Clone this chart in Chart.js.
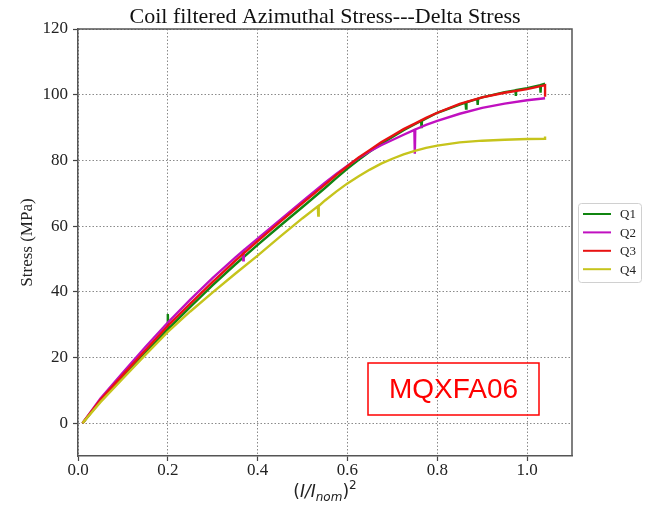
<!DOCTYPE html>
<html>
<head>
<meta charset="utf-8">
<script src="https://cdn.jsdelivr.net/npm/chart.js@4/dist/chart.umd.min.js"></script>
<style>
  body { margin: 0; background: #fff; }
  canvas { display: block; }
</style>
</head>
<body>
<canvas id="stressChart" width="648" height="508"></canvas>
<script>
// (I/Inom)^2 and delta stress (MPa) per quadrant
const loadQ1 = [0.01, 0.05, 0.1, 0.15, 0.199, 0.2, 0.201, 0.25, 0.3, 0.35, 0.4, 0.45, 0.5, 0.55, 0.575, 0.6, 0.625, 0.65,
  0.675, 0.7, 0.725, 0.75, 0.764, 0.765, 0.766, 0.8, 0.85, 0.863, 0.864, 0.865, 0.889, 0.89, 0.891, 0.9, 0.95,
  0.974, 0.975, 0.976, 1.0, 1.029, 1.03, 1.031, 1.04];
const stressQ1 = [0, 6.8, 14.2, 21.5, 28.5, 33.2, 28.7, 35.4, 42.0, 48.3, 54.3, 60.1, 65.8, 71.6, 74.6, 77.5, 80.2, 82.7,
  85.0, 87.1, 89.2, 91.0, 92.0, 89.8, 92.1, 94.5, 97.0, 97.6, 95.8, 97.7, 98.7, 96.9, 98.8, 99.2, 100.8,
  101.3, 99.6, 101.4, 102.0, 102.9, 100.6, 103.0, 103.4];

const loadQ2 = [0.01, 0.05, 0.1, 0.15, 0.2, 0.25, 0.3, 0.35, 0.367, 0.368, 0.369, 0.4, 0.45, 0.5, 0.55, 0.575, 0.6, 0.625,
  0.65, 0.675, 0.7, 0.725, 0.749, 0.75, 0.751, 0.775, 0.8, 0.85, 0.9, 0.95, 1.0, 1.04];
const stressQ2 = [0, 7.5, 15.4, 23.2, 30.6, 37.6, 44.2, 50.4, 52.4, 49.6, 52.6, 56.2, 61.9, 67.6, 73.2, 75.9, 78.4, 80.7,
  82.8, 84.6, 86.2, 87.8, 89.3, 82.0, 89.4, 90.8, 92.0, 94.2, 96.0, 97.3, 98.3, 98.9];

const loadQ3 = [0.01, 0.05, 0.1, 0.15, 0.2, 0.25, 0.3, 0.35, 0.4, 0.45, 0.5, 0.55, 0.575, 0.6, 0.625, 0.65, 0.675, 0.7,
  0.725, 0.75, 0.775, 0.8, 0.85, 0.9, 0.95, 1.0, 1.04, 1.04];
const stressQ3 = [0, 7.1, 14.7, 22.2, 29.6, 36.4, 43.0, 49.4, 55.4, 61.3, 67.0, 72.6, 75.5, 78.2, 80.9, 83.2, 85.5, 87.5,
  89.5, 91.2, 92.95, 94.5, 97.2, 99.2, 100.6, 101.7, 102.9, 99.4];

const loadQ4 = [0.01, 0.05, 0.1, 0.15, 0.2, 0.25, 0.3, 0.35, 0.4, 0.45, 0.5, 0.534, 0.535, 0.536, 0.55, 0.575, 0.6, 0.625,
  0.65, 0.675, 0.7, 0.725, 0.75, 0.775, 0.8, 0.85, 0.9, 0.95, 1.0, 1.04, 1.04];
const stressQ4 = [0, 6.4, 13.6, 20.8, 27.8, 34.0, 39.8, 45.5, 51.0, 56.8, 62.4, 66.0, 63.2, 66.1, 67.8, 70.5, 73.0, 75.2,
  77.2, 79.0, 80.5, 81.8, 82.9, 83.8, 84.5, 85.5, 86.0, 86.3, 86.5, 86.6, 87.3];

const seriesNames = ['Q1', 'Q2', 'Q3', 'Q4'];
const seriesColors = ['#108510', '#c010c0', '#e81212', '#c6c41c'];
const xTicks = [0.0, 0.2, 0.4, 0.6, 0.8, 1.0];
const yTicks = [0, 20, 40, 60, 80, 100, 120];
const chartTitle = 'Coil filtered Azimuthal Stress---Delta Stress';
const tagText = 'MQXFA06';

const loads = [loadQ1, loadQ2, loadQ3, loadQ4];
const stresses = [stressQ1, stressQ2, stressQ3, stressQ4];

const serif = 'Liberation Serif, Times New Roman, serif';

const datasets = seriesNames.map((name, i) => ({
  label: name,
  data: loads[i].map((x, k) => ({ x: x, y: stresses[i][k] })),
  borderColor: seriesColors[i],
  backgroundColor: seriesColors[i],
  borderWidth: 2.4,
  pointRadius: 0,
  tension: 0,
  order: 3 - i   // Q4 ends up on top
}));

// top/right spines, title, legend box, tag box and the x axis label
const extras = {
  id: 'extras',
  afterDatasetsDraw(chart) {
    const { ctx, chartArea: a } = chart;
    ctx.save();
    ctx.strokeStyle = '#555';
    ctx.lineWidth = 1.5;
    ctx.beginPath();
    ctx.moveTo(a.left, a.top);
    ctx.lineTo(a.right, a.top);
    ctx.lineTo(a.right, a.bottom);
    ctx.stroke();
    ctx.restore();
  },
  afterDraw(chart) {
    const { ctx, chartArea: a } = chart;
    ctx.save();

    // title, centred over the plot
    ctx.fillStyle = '#111';
    ctx.font = '22px ' + serif;
    ctx.textAlign = 'center';
    ctx.textBaseline = 'alphabetic';
    ctx.fillText(chartTitle, (a.left + a.right) / 2, 23);

    // legend
    const lx = 578, ly = 203, lw = 63, lh = 79;
    ctx.fillStyle = '#fff';
    ctx.strokeStyle = '#d0d0d0';
    ctx.lineWidth = 1;
    ctx.beginPath();
    ctx.roundRect(lx + 0.5, ly + 0.5, lw, lh, 3);
    ctx.fill();
    ctx.stroke();
    ctx.font = '13px ' + serif;
    ctx.textBaseline = 'middle';
    ctx.textAlign = 'left';
    seriesNames.forEach((name, i) => {
      const y = 214 + i * 18.4;
      ctx.strokeStyle = seriesColors[i];
      ctx.lineWidth = 2;
      ctx.beginPath();
      ctx.moveTo(583, y);
      ctx.lineTo(611, y);
      ctx.stroke();
      ctx.fillStyle = '#222';
      ctx.fillText(name, 620, y + 1);
    });

    // tag box
    ctx.strokeStyle = '#ff0000';
    ctx.lineWidth = 1.5;
    ctx.strokeRect(368, 363, 171, 52);
    ctx.fillStyle = '#ff0000';
    ctx.font = '28px Liberation Sans, Arial, sans-serif';
    ctx.textAlign = 'center';
    ctx.textBaseline = 'middle';
    ctx.fillText(tagText, 453.5, 390);

    // x axis label: (I/I_nom)^2
    const big = '17px DejaVu Sans, sans-serif';
    const bigIt = 'italic 17px DejaVu Sans, sans-serif';
    const small = 'italic 12px DejaVu Sans, sans-serif';
    const smallUp = '12px DejaVu Sans, sans-serif';
    const parts = [
      { t: '(', f: big, dy: 0 },
      { t: 'I/I', f: bigIt, dy: 0 },
      { t: 'nom', f: small, dy: 4 },
      { t: ')', f: big, dy: 0 },
      { t: '2', f: smallUp, dy: -8 }
    ];
    let total = 0;
    parts.forEach(p => { ctx.font = p.f; p.w = ctx.measureText(p.t).width; total += p.w; });
    let x = (a.left + a.right) / 2 - total / 2;
    const base = 497;
    ctx.fillStyle = '#222';
    ctx.textAlign = 'left';
    ctx.textBaseline = 'alphabetic';
    parts.forEach(p => {
      ctx.font = p.f;
      ctx.fillText(p.t, x, base + p.dy);
      x += p.w;
    });
    ctx.restore();
  }
};

new Chart(document.getElementById('stressChart'), {
  type: 'line',
  data: { datasets: datasets },
  plugins: [extras],
  options: {
    responsive: false,
    animation: false,
    layout: { padding: { left: 0, right: 76, top: 29, bottom: 0 } },
    plugins: {
      legend: { display: false },
      tooltip: { enabled: false },
      title: { display: false }
    },
    scales: {
      x: {
        type: 'linear',
        min: 0,
        max: 1.1,
        afterBuildTicks: s => { s.ticks = xTicks.map(v => ({ value: v })); },
        afterFit: s => { s.height = 52; },
        ticks: {
          callback: v => v.toFixed(1),
          color: '#222',
          font: { family: serif, size: 17, lineHeight: 1 },
          padding: 1,
          maxRotation: 0,
          autoSkip: false
        },
        grid: { color: '#8a8a8a', lineWidth: 1, tickLength: 5, tickColor: '#444', tickWidth: 1.2 },
        border: { display: true, color: '#555', width: 1.5, dash: [1.5, 2] }
      },
      y: {
        type: 'linear',
        min: -10,
        max: 120,
        afterBuildTicks: s => { s.ticks = yTicks.map(v => ({ value: v })); },
        afterFit: s => { s.width = 78; },
        ticks: {
          color: '#222',
          font: { family: serif, size: 17 },
          padding: 5
        },
        title: {
          display: true,
          text: 'Stress (MPa)',
          color: '#222',
          font: { family: serif, size: 17 },
          padding: { top: 17, bottom: 0 }
        },
        grid: { color: '#8a8a8a', lineWidth: 1, tickLength: 5, tickColor: '#444', tickWidth: 1.2 },
        border: { display: true, color: '#555', width: 1.5, dash: [1.5, 2] }
      }
    }
  }
});
</script>
</body>
</html>
